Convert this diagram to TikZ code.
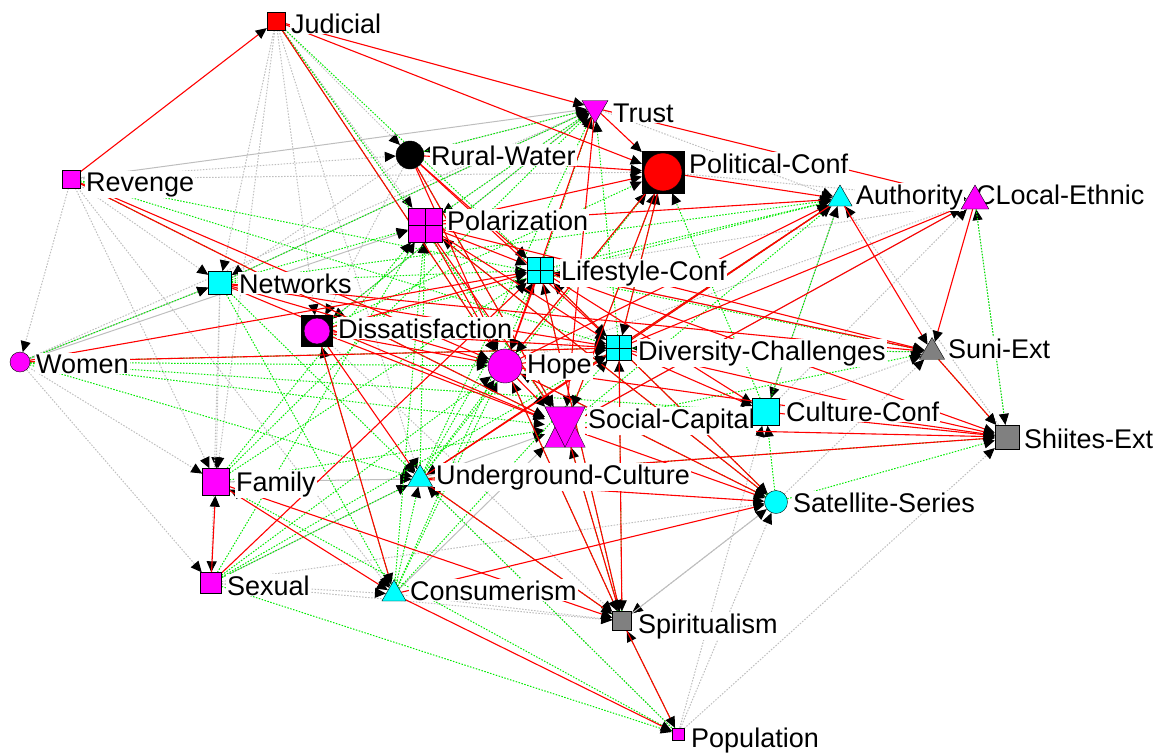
\documentclass[tikz,border=0pt]{standalone}
\usepackage{fontspec}
\setmainfont{Liberation Sans}
\usetikzlibrary{shapes.geometric,arrows.meta,backgrounds}
\pgfdeclarelayer{front}
\pgfsetlayers{background,main,front}
\definecolor{nmag}{RGB}{255,0,255}
\definecolor{ncyan}{RGB}{0,255,255}
\definecolor{nred}{RGB}{255,0,0}
\definecolor{ngray}{RGB}{128,128,128}
\definecolor{egreen}{RGB}{0,235,0}
\definecolor{egray}{RGB}{190,190,190}
\tikzset{
  sq/.style={draw=black,rectangle,inner sep=0pt,minimum size=#1},
  crossed/.style={path picture={\draw (path picture bounding box.north) -- (path picture bounding box.south) (path picture bounding box.west) -- (path picture bounding box.east);}},
  tri/.style={draw=black,regular polygon,regular polygon sides=3,inner sep=0pt,minimum size=#1},
  dot/.style={draw=black,circle,inner sep=0pt,minimum size=#1},
  lbl/.style={fill=white,inner sep=1pt,anchor=base west,font=\fontsize{27}{30}\selectfont},
  tip/.style={-{Triangle[length=11pt,width=10pt,color=black]}},
  redE/.style={tip,draw=nred,line width=1.1pt},
  greenE/.style={tip,draw=egreen,line width=1pt,dash pattern=on 1.5pt off 1.5pt},
  grayE/.style={tip,draw=egray,line width=1pt,dash pattern=on 1.5pt off 1.5pt},
  graysE/.style={tip,draw=egray,line width=1pt},
}
\begin{document}
\begin{tikzpicture}[x=1pt,y=-1pt]
\useasboundingbox (0,0) rectangle (1155,753);
% node shapes
\begin{pgfonlayer}{front}
\node[sq=18,fill=nred] (jud) at (276,21) {};
\node[tri=30,shape border rotate=180,fill=nmag] (tru) at (595,108) {};
\node[dot=28,fill=black] (rur) at (410,155) {};
\node[sq=42,fill=black] (pol) at (663,172) {};
\node[dot=38,fill=nred] (polc) at (pol) {};
\node[sq=18,fill=nmag] (rev) at (71,179) {};
\node[tri=28,fill=ncyan] (aut) at (840,199) {};
\node[tri=32,fill=nmag] (loc) at (975,201) {};
\node[sq=34,fill=nmag,crossed] (pola) at (425,225) {};
\node[sq=23,fill=ncyan] (net) at (220,283) {};
\node[sq=26,fill=ncyan,crossed] (lif) at (540,270) {};
\node[sq=31,fill=black] (dis) at (317,331) {};
\node[dot=26,fill=nmag] (disc) at (dis) {};
\node[dot=20,fill=nmag] (wom) at (20,362) {};
\node[dot=34,fill=nmag] (hop) at (505,366) {};
\node[sq=25,fill=ncyan,crossed] (div) at (619,348) {};
\node[tri=29,fill=ngray] (sun) at (932,352) {};
\node[sq=40,draw=none] (soc) at (565,427) {};
\draw[fill=nmag] (soc.south west) -- (soc.south east) -- (soc.north) -- cycle;
\draw[fill=nmag] (soc.north west) -- (soc.north east) -- (soc.south) -- cycle;
\node[sq=27,fill=ncyan] (cul) at (766,412) {};
\node[sq=24,fill=ngray] (shi) at (1007,437) {};
\node[sq=27,fill=nmag] (fam) at (216,482) {};
\node[tri=29,fill=ncyan] (und) at (420,479) {};
\node[dot=23,fill=ncyan] (sat) at (776,502) {};
\node[sq=21,fill=nmag] (sex) at (211,583) {};
\node[tri=28,fill=ncyan] (con) at (394,594) {};
\node[sq=19,fill=ngray] (spi) at (622,621) {};
\node[sq=12,fill=nmag] (pop) at (678,734) {};
\end{pgfonlayer}
% labels
\foreach \n/\x/\y/\t in {jud/290/33/Judicial, tru/612/122/Trust, rur/430/165/Rural-Water,
  pol/688/173/Political-Conf, rev/85/191/Revenge, aut/855/204/Authority,
  loc/975/204/CLocal-Ethnic, pola/446/230/Polarization, net/238/293/Networks,
  lif/560/280/Lifestyle-Conf, dis/337/338/Dissatisfaction, wom/35/373/Women,
  hop/526/373/Hope, div/637/360/Diversity-Challenges, sun/947/358/Suni-Ext,
  soc/587/428/Social-Capital, cul/785/421/Culture-Conf, shi/1023/448/Shiites-Ext,
  fam/235/491/Family, und/435/484/Underground-Culture, sat/792/512/Satellite-Series,
  sex/226/595/Sexual, con/409/600/Consumerism, spi/637/633/Spiritualism,
  pop/690/747/Population}
  \node[lbl] (\n-l) at (\x,\y) {\t};
% connectors
\begin{scope}[on background layer]
\foreach \a/\b in {jud/net, jud/dis, jud/fam, jud/pola, jud/rur, jud/und, jud/soc, rev/wom, rev/fam,
  rev/net, rev/con, rev/pol, rev/rur, wom/fam, wom/sex, wom/tru, net/fam, net/sex, sex/con,
  sex/spi, sex/sat, fam/und, con/spi, pop/sat, pop/cul, pop/shi, pop/und, sat/sun, cul/sun,
  cul/loc, shi/loc, shi/aut, sun/div, hop/loc, tru/aut, tru/rur, tru/pola, pol/loc, lif/loc,
  dis/spi, sat/spi, rur/dis, rur/net}
  \draw[grayE] (\a) -- (\b);
\foreach \a/\b in {wom/net, rev/tru, net/tru, sex/und, fam/und, con/soc, spi/sat, und/soc,
  loc/soc, aut/cul, tru/dis, sun/lif, wom/pola}
  \draw[graysE] (\a) -- (\b);
\foreach \a/\b in {jud/hop, jud/soc, jud/lif, rev/div, rev/soc, rev/sun, wom/net, wom/hop,
  wom/soc, wom/div, wom/und, wom/cul, net/pola, net/lif, net/tru, net/con, net/und, fam/pola,
  fam/lif, fam/tru, fam/soc, sex/und, sex/pola, sex/hop, sex/div, sex/pop, con/und, con/pola,
  con/lif, con/dis, con/hop, con/div, und/pola, und/lif, und/tru, und/pol, und/aut, und/hop,
  und/shi, spi/soc, spi/div, spi/hop, spi/lif, spi/und, pop/und, pop/spi, pop/fam, sat/cul,
  sat/shi, sat/lif, sat/pola, sat/hop, cul/aut, cul/pol, div/aut, div/pol, div/tru, div/sun,
  soc/aut, soc/sun, soc/pol, hop/pol, lif/aut, lif/tru, pola/tru, rur/tru, dis/tru, dis/pol,
  dis/aut, loc/shi, sun/shi, rur/soc, net/aut}
  \draw[greenE] (\a) -- (\b);
\foreach \a/\b in {rev/jud, jud/pol, jud/tru, jud/hop, tru/pol, tru/loc, tru/soc, tru/hop,
  pol/aut, rur/pol, rur/lif, rur/hop, rur/soc, rur/div, pola/pol, pola/lif, pola/hop, pola/div,
  pola/soc, pola/sun, pola/aut, pola/sat, lif/hop, lif/div, lif/shi, lif/sun, lif/spi,
  lif/cul, dis/hop, dis/soc, dis/con, dis/div, dis/lif, wom/lif, wom/div, net/soc, net/div,
  net/sun, rev/soc, rev/hop, fam/con, fam/spi, sex/fam, sex/lif, und/sat, und/shi, und/spi,
  con/sat, soc/spi, hop/spi, div/spi, spi/pop, hop/sat, soc/sat, div/sat, cul/shi, div/cul,
  hop/shi, soc/shi, aut/sun, loc/sun, sun/shi, div/aut, div/loc, soc/loc, hop/aut, aut/und,
  hop/div, hop/soc, div/shi, net/hop, pol/hop, pol/soc, pol/div, und/div, dis/und, con/pop}
  \draw[redE] (\a) -- (\b);
\end{scope}
\end{tikzpicture}
\end{document}
